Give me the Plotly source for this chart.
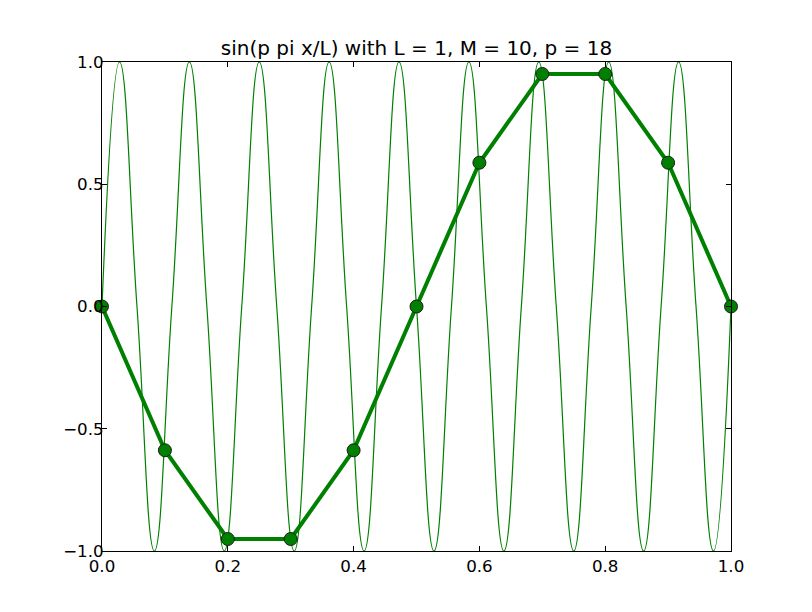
import plotly.graph_objects as go

# thin curve: sin(p pi x/L), knots at zeros and extrema
curve_x = [0.0, 0.0278, 0.0556, 0.0833, 0.1111, 0.1389, 0.1667, 0.1944, 0.2222,
           0.25, 0.2778, 0.3056, 0.3333, 0.3611, 0.3889, 0.4167, 0.4444, 0.4722,
           0.5, 0.5278, 0.5556, 0.5833, 0.6111, 0.6389, 0.6667, 0.6944, 0.7222,
           0.75, 0.7778, 0.8056, 0.8333, 0.8611, 0.8889, 0.9167, 0.9444, 0.9722, 1.0]
curve_y = [0, 1, 0, -1, 0, 1, 0, -1, 0,
           1, 0, -1, 0, 1, 0, -1, 0, 1,
           0, -1, 0, 1, 0, -1, 0, 1, 0,
           -1, 0, 1, 0, -1, 0, 1, 0, -1, 0]

# sampled mesh points (M = 10)
mesh_x = [0.0, 0.1, 0.2, 0.3, 0.4, 0.5, 0.6, 0.7, 0.8, 0.9, 1.0]
mesh_y = [0.0, -0.588, -0.951, -0.951, -0.588, 0.0, 0.588, 0.951, 0.951, 0.588, 0.0]

green = '#008000'

fig = go.Figure()

fig.add_trace(go.Scatter(x=curve_x, y=curve_y, mode='lines',
                         line=dict(color=green, width=1.2, shape='spline', smoothing=1.3),
                         showlegend=False))

fig.add_trace(go.Scatter(x=mesh_x, y=mesh_y, mode='lines+markers',
                         line=dict(color=green, width=4),
                         marker=dict(color=green, size=13, line=dict(color='#1a1a1a', width=1)),
                         cliponaxis=False, showlegend=False))

axis_style = dict(showgrid=False, zeroline=False, showline=True, linecolor='black',
                  linewidth=1, mirror='ticks', ticks='inside', ticklen=5,
                  tickcolor='black', tickformat='.1f',
                  tickfont=dict(family='DejaVu Sans', size=16.7, color='black'))

fig.update_layout(
    width=800, height=600,
    paper_bgcolor='white', plot_bgcolor='white',
    margin=dict(l=94, r=77, t=54, b=57),
    title=dict(text='sin(p pi x/L) with L = 1, M = 10, p = 18',
               x=0.5, xref='paper', y=1.0, yref='paper', yanchor='bottom',
               pad=dict(b=7),
               font=dict(family='DejaVu Sans', size=20, color='black')),
    xaxis=dict(range=[0, 1], dtick=0.2, ticklabelstandoff=0, **axis_style),
    yaxis=dict(range=[-1, 1], dtick=0.5, ticklabelstandoff=-6, **axis_style),
)

fig.write_html("out.html")
